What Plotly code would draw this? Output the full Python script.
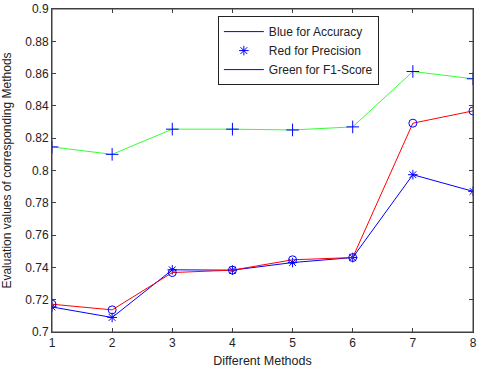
import plotly.graph_objects as go

# methods on the x axis
methods = [1, 2, 3, 4, 5, 6, 7, 8]

# values
accuracy = [0.7155, 0.7090, 0.7385, 0.7383, 0.7430, 0.7461, 0.7974, 0.7871]
precision = [0.7172, 0.7137, 0.7368, 0.7383, 0.7447, 0.7461, 0.8293, 0.8369]
f1_score = [0.8146, 0.8100, 0.8256, 0.8256, 0.8251, 0.8270, 0.8613, 0.8568]

y_ticks = [0.7, 0.72, 0.74, 0.76, 0.78, 0.8, 0.82, 0.84, 0.86, 0.88, 0.9]
y_labels = ["0.7", "0.72", "0.74", "0.76", "0.78", "0.8", "0.82", "0.84", "0.86", "0.88", "0.9"]

BLUE = "#0000ff"
RED = "#ff0000"
GREEN = "#33ff33"
FONT = "Liberation Sans, Arial"
AXC = "#404040"

fig = go.Figure()

# lines first (matlab style: coloured lines, blue markers on top)
fig.add_trace(go.Scatter(x=methods, y=accuracy, mode="lines",
                         line=dict(color=BLUE, width=1),
                         name="Blue for Accuracy", showlegend=True))
fig.add_trace(go.Scatter(x=methods, y=accuracy, mode="markers",
                         marker=dict(symbol="asterisk-open", size=8, color=BLUE,
                                     line=dict(color=BLUE, width=1)),
                         name="Red for Precision", showlegend=True))
fig.add_trace(go.Scatter(x=methods, y=f1_score, mode="lines",
                         line=dict(color=GREEN, width=1),
                         name="Green for F1-Score", showlegend=False))
fig.add_trace(go.Scatter(x=[None], y=[None], mode="lines",
                         line=dict(color=BLUE, width=1),
                         name="Green for F1-Score", showlegend=True))
fig.add_trace(go.Scatter(x=methods, y=precision, mode="lines",
                         line=dict(color=RED, width=1),
                         showlegend=False))
fig.add_trace(go.Scatter(x=methods, y=precision, mode="markers",
                         marker=dict(symbol="circle-open", size=8, color=BLUE,
                                     line=dict(color=BLUE, width=1)),
                         showlegend=False))
fig.add_trace(go.Scatter(x=methods, y=f1_score, mode="markers",
                         marker=dict(symbol="cross-thin-open", size=9, color=BLUE,
                                     line=dict(color=BLUE, width=1)),
                         showlegend=False))

axis_style = dict(
    showline=True, linecolor=AXC, linewidth=1, mirror="allticks",
    ticks="inside", ticklen=4, tickcolor=AXC, showgrid=False,
    zeroline=False, automargin=False,
    tickfont=dict(family=FONT, size=12, color="#222"),
)

fig.update_xaxes(range=[1, 8], tickvals=methods, **axis_style,
                 title=dict(text="Different Methods",
                            font=dict(family=FONT, size=12.5, color="#222")))
fig.update_yaxes(range=[0.7, 0.9], tickvals=y_ticks, ticktext=y_labels, **axis_style,
                 title=dict(text="Evaluation values of corresponding Methods",
                            font=dict(family=FONT, size=12, color="#222")))

# box round the plot area, like matlab's axes frame
fig.add_shape(type="rect", xref="paper", yref="paper", x0=0, y0=0, x1=1, y1=1,
              line=dict(color=AXC, width=1), layer="above")

fig.update_layout(
    width=480, height=368,
    margin=dict(l=52, r=7, t=9, b=36),
    paper_bgcolor="white", plot_bgcolor="white",
    font=dict(family=FONT, size=11, color="#222"),
    legend=dict(x=0.394, y=0.978, xanchor="left", yanchor="top",
                bgcolor="white", bordercolor="#222", borderwidth=1,
                font=dict(size=12), tracegroupgap=0, itemwidth=40),
)

# page has a default 8px body margin, drop it so the figure sits at 0,0
fig.write_html("out.html", config={"displayModeBar": False},
               post_script="document.body.style.margin='0';")
